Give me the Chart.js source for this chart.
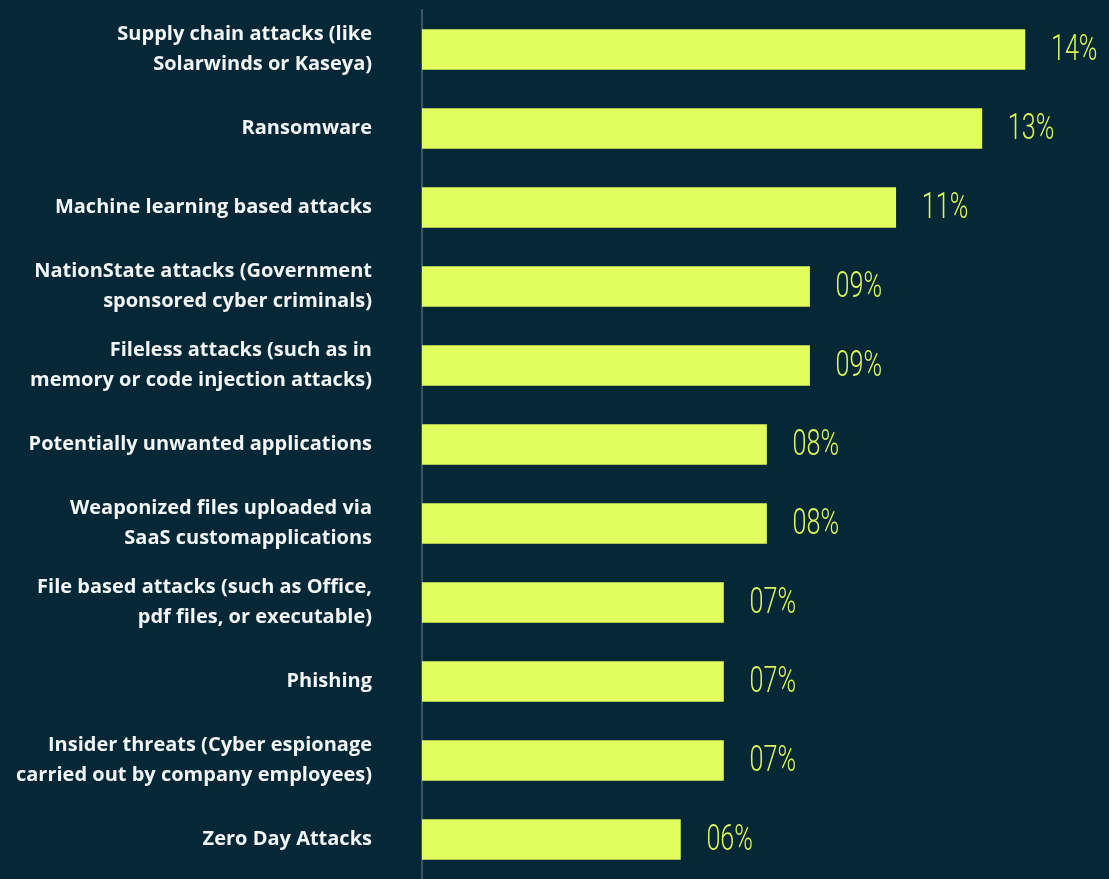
<!DOCTYPE html>
<html>
<head>
<meta charset="utf-8">
<script src="https://cdn.jsdelivr.net/npm/chart.js@4"></script>
<style>
  html, body { margin: 0; padding: 0; background: #062735; }
  #wrap { width: 1109px; height: 879px; position: relative; }
</style>
</head>
<body>
<div id="wrap"><canvas id="chart"></canvas></div>
<script>
const categories = [
  ["Supply chain attacks (like", "Solarwinds or Kaseya)"],
  "Ransomware",
  "Machine learning based attacks",
  ["NationState attacks (Government", "sponsored cyber criminals)"],
  ["Fileless attacks (such as in", "memory or code injection attacks)"],
  "Potentially unwanted applications",
  ["Weaponized files uploaded via", "SaaS customapplications"],
  ["File based attacks (such as Office,", "pdf files, or executable)"],
  "Phishing",
  ["Insider threats (Cyber espionage", "carried out by company employees)"],
  "Zero Day Attacks"
];
const shares = [14, 13, 11, 9, 9, 8, 8, 7, 7, 7, 6];

const pctLabel = v => (v < 10 ? "0" + v : String(v)) + "%";

const valueLabels = {
  id: "valueLabels",
  afterDatasetsDraw(chart) {
    const ctx = chart.ctx;
    const meta = chart.getDatasetMeta(0);
    ctx.save();
    ctx.fillStyle = "#dcf55c";
    ctx.font = "300 37px Roboto";
    ctx.textBaseline = "middle";
    ctx.textAlign = "left";
    meta.data.forEach((bar, i) => {
      const x = bar.x + 26;
      const y = bar.y + 1;
      ctx.save();
      ctx.translate(x, y);
      ctx.scale(0.68, 1);
      ctx.fillText(pctLabel(shares[i]), 0, 0);
      ctx.restore();
    });
    ctx.restore();
  }
};

new Chart(document.getElementById("chart"), {
  type: "bar",
  data: {
    labels: categories,
    datasets: [{
      data: shares,
      backgroundColor: "#e2fe5e",
      borderWidth: 0,
      barThickness: 40
    }]
  },
  options: {
    indexAxis: "y",
    responsive: true,
    maintainAspectRatio: false,
    animation: false,
    layout: { padding: { top: 10, right: 41, bottom: 0, left: 0 } },
    plugins: { legend: { display: false }, tooltip: { enabled: false } },
    scales: {
      x: {
        display: false,
        min: 0,
        max: 15
      },
      y: {
        afterFit(scale) {
          scale.width = 422;
          scale.paddingTop = 0;
          scale.paddingBottom = 0;
        },
        grid: { display: false, drawTicks: false },
        border: { display: true, color: "#3b5461", width: 2 },
        ticks: {
          color: "#f2f5f6",
          padding: 50,
          font: { family: "Open Sans", weight: "700", size: 20, lineHeight: 1.5 }
        }
      }
    }
  },
  plugins: [valueLabels]
});
</script>
</body>
</html>
